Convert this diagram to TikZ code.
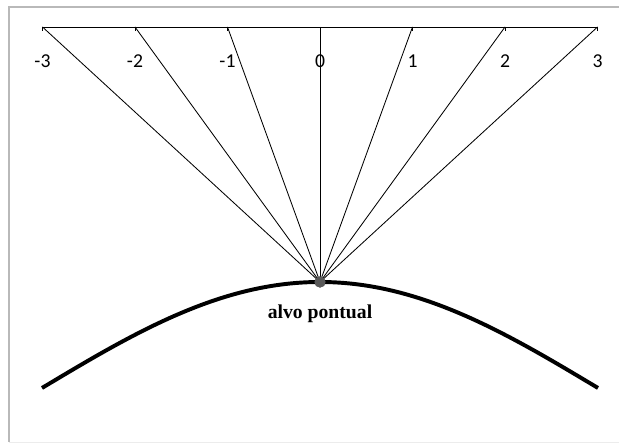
\documentclass[tikz,border=0pt]{standalone}
\usepackage{fontspec}
\setmainfont{Liberation Serif}
\newfontfamily\axisfont{Carlito}
\usetikzlibrary{positioning}

\begin{document}
\begin{tikzpicture}[
    x=0.025cm, y=0.025cm,
    frame line/.style={draw=gray!55, line width=0.9pt},
    ray/.style={draw=black, line width=0.6pt},
    target dot/.style={circle, fill=black!65, inner sep=0pt, minimum size=0.28cm},
    tick label/.style={font=\axisfont\fontsize{14}{16}\selectfont, inner sep=1pt},
    target label/.style={font=\bfseries\fontsize{14}{16}\selectfont, inner sep=1pt}
]
    \useasboundingbox (0,0) rectangle (619,444);
    \draw[frame line] (619,437) -- (9,437) -- (9,2);
    \draw[draw=gray!15, line width=0.6pt] (9,2) -- (619,2);

    % top row of points
    \foreach \v [count=\i from 0] in {-3,-2,-1,0,1,2,3} {
        \coordinate (t\i) at (42.5+92.5*\i, 417);
        \node[tick label] (l\i) at (42.5+92.5*\i, 383) {\v};
    }
    \draw[ray] (t0) -- (t6);
    \foreach \i in {0,...,6} {
        \draw[ray] (t\i) -- ++(0,-4);
    }

    \node[target dot] (alvo) at (320,162) {};
    \foreach \i in {0,...,6} {
        \draw[ray] (alvo.center) -- (t\i);
    }

    % the curved surface
    \draw[line width=2.8pt] plot[domain=-278:278, samples=80, smooth]
        ({320+\x}, {56+106*cos(\x/278*90)});
    \node[target dot] at (alvo) {};

    \node[target label, below=11pt of alvo] (alvotxt) {alvo pontual};
\end{tikzpicture}
\end{document}
